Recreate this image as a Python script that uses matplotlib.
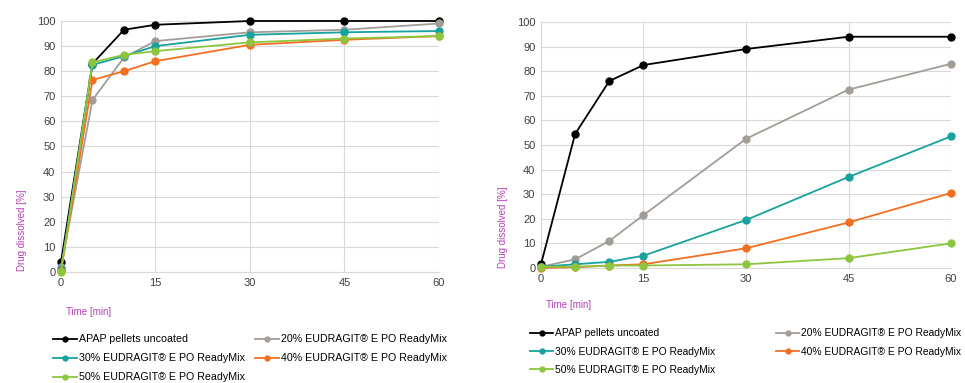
import matplotlib as mpl
import matplotlib.pyplot as plt

mpl.rcParams.update({
    "font.family": ["Liberation Sans", "DejaVu Sans"],
    "font.size": 8,
})

# sampling times [min]
time = [0, 5, 10, 15, 30, 45, 60]

labels = ["APAP pellets uncoated",
          "20% EUDRAGIT\u00ae E PO ReadyMix",
          "30% EUDRAGIT\u00ae E PO ReadyMix",
          "40% EUDRAGIT\u00ae E PO ReadyMix",
          "50% EUDRAGIT\u00ae E PO ReadyMix"]
colors = ["#000000", "#a39d98", "#17a29e", "#f26f21", "#8cc63e"]

# left panel: drug dissolved [%]
left_uncoated = [4, 83, 96.5, 98.5, 100, 100, 100]
left_20 = [2, 68.5, 85.5, 92, 95.5, 96.5, 99]
left_30 = [1, 82.5, 86, 90, 94.5, 95.5, 96]
left_40 = [0.5, 76.5, 80, 84, 90.5, 92.5, 94]
left_50 = [0, 83.5, 86.5, 88, 91.5, 93, 94]

# right panel: drug dissolved [%]
right_uncoated = [1.5, 54.5, 76, 82.5, 89, 94, 94]
right_20 = [0.5, 3.5, 11, 21.5, 52.5, 72.5, 83]
right_30 = [0.5, 1.5, 2.5, 5, 19.5, 37, 53.5]
right_40 = [0, 0.3, 1, 1.5, 8, 18.5, 30.5]
right_50 = [0.5, 0.5, 1, 1, 1.5, 4, 10]

PURPLE = "#b53fb5"
GRID = "#d9d9d9"
W, H = 965, 383

fig = plt.figure(figsize=(9.65, 3.83), dpi=100)
ax_l = fig.add_axes([0.0632, 0.2898, 0.3917, 0.6554])
ax_r = fig.add_axes([0.5606, 0.3003, 0.4249, 0.6423])


def draw(ax, series):
    handles = []
    for vals, c, lab in zip(series, colors, labels):
        h, = ax.plot(time, vals, color=c, lw=1.3, marker="o", ms=5,
                     label=lab, zorder=3, clip_on=False)
        handles.append(h)
    ax.set_xlim(0, 60)
    ax.set_ylim(0, 100)
    ax.set_xticks([0, 15, 30, 45, 60])
    ax.set_yticks(range(0, 101, 10))
    ax.grid(True, color=GRID, lw=0.8, zorder=0)
    ax.set_axisbelow(True)
    for s in ["top", "right"]:
        ax.spines[s].set_visible(False)
    for s in ["left", "bottom"]:
        ax.spines[s].set_color(GRID)
        ax.spines[s].set_linewidth(0.8)
    ax.tick_params(length=0, labelsize=8, colors="#404040", pad=4)
    return handles


h_l = draw(ax_l, [left_uncoated, left_20, left_30, left_40, left_50])
h_r = draw(ax_r, [right_uncoated, right_20, right_30, right_40, right_50])

# axis titles placed like the original (lower left)
fig.text(22 / W, 1 - 271 / H, "Drug dissolved [%]", rotation=90,
         color=PURPLE, fontsize=7, ha="center", va="bottom")
fig.text(503 / W, 1 - 268 / H, "Drug dissolved [%]", rotation=90,
         color=PURPLE, fontsize=7, ha="center", va="bottom")
fig.text(66 / W, 1 - 312 / H, "Time [min]", color=PURPLE, fontsize=7,
         ha="left", va="center")
fig.text(546 / W, 1 - 305 / H, "Time [min]", color=PURPLE, fontsize=7,
         ha="left", va="center")


def legend_col(handles, idx, x, y, spacing, size):
    fig.legend([handles[i] for i in idx], [labels[i] for i in idx],
               frameon=False, fontsize=size, loc="upper left",
               bbox_to_anchor=(x / W, 1 - y / H), handlelength=2.25,
               handletextpad=0.2, labelspacing=spacing, markerscale=0.7,
               borderaxespad=0, borderpad=0)


# legends laid out row by row in two columns
legend_col(h_l, [0, 2, 4], 53, 334.5, 0.84, 7.7)
legend_col(h_l, [1, 3], 255, 334.5, 0.84, 7.7)
legend_col(h_r, [0, 2, 4], 530, 328.5, 0.78, 7.4)
legend_col(h_r, [1, 3], 776, 328.5, 0.78, 7.4)

fig.savefig("out.png", dpi=100)
